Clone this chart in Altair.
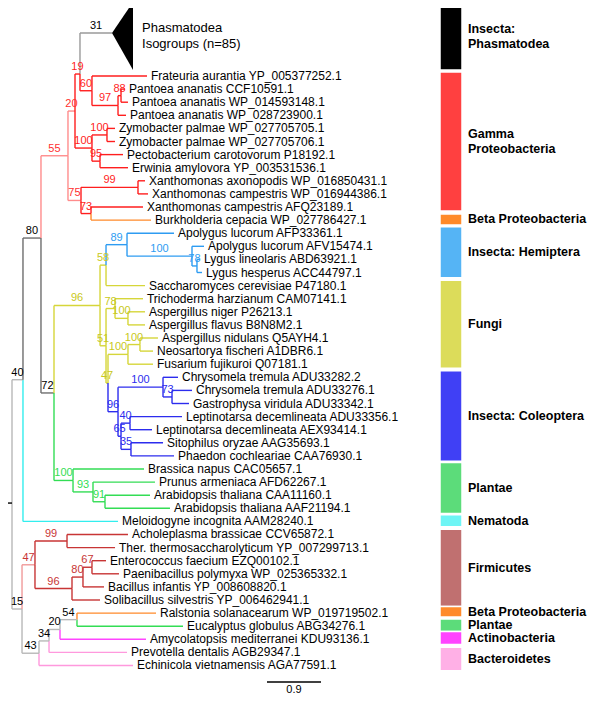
import altair as alt
import pandas as pd

# ---------------- data ----------------
leaf_names = [
    "Frateuria aurantia YP_005377252.1", "Pantoea ananatis CCF10591.1",
    "Pantoea ananatis WP_014593148.1", "Pantoea ananatis WP_028723900.1",
    "Zymobacter palmae WP_027705705.1", "Zymobacter palmae WP_027705706.1",
    "Pectobacterium carotovorum P18192.1", "Erwinia amylovora YP_003531536.1",
    "Xanthomonas axonopodis WP_016850431.1", "Xanthomonas campestris WP_016944386.1",
    "Xanthomonas campestris AFQ23189.1", "Burkholderia cepacia WP_027786427.1",
    "Apolygus lucorum AFP33361.1", "Apolygus lucorum AFV15474.1",
    "Lygus lineolaris ABD63921.1", "Lygus hesperus ACC44797.1",
    "Saccharomyces cerevisiae P47180.1", "Trichoderma harzianum CAM07141.1",
    "Aspergillus niger P26213.1", "Aspergillus flavus B8N8M2.1",
    "Aspergillus nidulans Q5AYH4.1", "Neosartorya fischeri A1DBR6.1",
    "Fusarium fujikuroi Q07181.1", "Chrysomela tremula ADU33282.2",
    "Chrysomela tremula ADU33276.1", "Gastrophysa viridula ADU33342.1",
    "Leptinotarsa decemlineata ADU33356.1", "Leptinotarsa decemlineata AEX93414.1",
    "Sitophilus oryzae AAG35693.1", "Phaedon cochleariae CAA76930.1",
    "Brassica napus CAC05657.1", "Prunus armeniaca AFD62267.1",
    "Arabidopsis thaliana CAA11160.1", "Arabidopsis thaliana AAF21194.1",
    "Meloidogyne incognita AAM28240.1", "Acholeplasma brassicae CCV65872.1",
    "Ther. thermosaccharolyticum YP_007299713.1", "Enterococcus faecium  EZQ00102.1",
    "Paenibacillus polymyxa WP_025365332.1", "Bacillus infantis  YP_008608820.1",
    "Solibacillus silvestris  YP_006462941.1", "Ralstonia solanacearum WP_019719502.1",
    "Eucalyptus globulus ABG34276.1", "Amycolatopsis mediterranei KDU93136.1",
    "Prevotella dentalis AGB29347.1", "Echinicola vietnamensis AGA77591.1",
]
leaf_parent = [
    "n60", "n88", "n88", "n97", "n100a", "n100a", "n95", "n95", "n99", "n99",
    "n73", "n73", "n89", "n100h", "n78h", "n78h", "n58", "n78y", "n100asp", "n100asp",
    "n100n", "n100n", "n100f", "n100c", "n73c", "n73c", "n40c", "n40c", "n35", "n35",
    "n100P", "n93", "n91", "n91", "n40", "n99f", "n99f", "n67", "n67", "n80f",
    "n96f", "n54", "n54", "n20b", "n34", "n43",
]
leaf_depth = [
    2.25, 1.883, 1.933, 1.90, 1.717, 1.717, 1.85, 1.933, 2.217, 2.267,
    2.183, 2.317, 2.70, 3.20, 3.133, 3.167, 2.217, 2.183, 2.217, 2.217,
    2.433, 2.35, 2.35, 2.767, 3.00, 2.95, 2.833, 2.333, 2.517, 2.70,
    2.20, 2.383, 2.30, 2.633, 1.767, 1.933, 1.717, 1.567, 1.783, 1.533,
    1.467, 2.40, 2.85, 2.233, 1.917, 2.017,
]
leaf_clade = (["gamma"] * 11 + ["beta"] + ["hemi"] * 4 + ["fungi"] * 7 + ["coleo"] * 7
              + ["plant"] * 4 + ["nema"] + ["firm"] * 6
              + ["beta", "plant", "actino", "bacter", "bacter"])

# collapsed clade
clade_name = "Phasmatodea\nIsogroups (n=85)"
clade_parent = "n19"
clade_row = -3.28
clade_depth = 1.667
clade_base_depth = 2.017
clade_base_rows = [-5.65, -0.46]
clade_support = "31"

node_ids = ["root", "n40", "n15", "n80", "n55", "n72", "n20", "n75", "n19", "n100b",
            "n60", "n97", "n88", "n100a", "n95", "n99", "n73",
            "n96", "n100P", "n58", "n51", "n89", "n100h", "n78h", "n78y", "n100asp",
            "n47", "n100f", "n100n", "n96c", "n100c", "n73c", "n65", "n40c", "n35",
            "n93", "n91", "n47f", "n43", "n99f", "n96f", "n80f", "n67", "n34", "n20b", "n54"]
node_parent = [None, "root", "root", "n40", "n80", "n80", "n55", "n55", "n20", "n20",
               "n19", "n60", "n97", "n100b", "n100b", "n75", "n75",
               "n72", "n72", "n96", "n96", "n58", "n89", "n100h", "n51", "n78y",
               "n51", "n47", "n100f", "n47", "n96c", "n100c", "n96c", "n65", "n65",
               "n100P", "n93", "n15", "n15", "n47f", "n47f", "n96f", "n80f", "n43", "n34", "n20b"]
node_depth = [0.0, 0.183, 0.167, 0.483, 0.933, 0.70, 1.05, 1.15, 1.133, 1.333,
              1.333, 1.767, 1.817, 1.583, 1.467, 2.10, 1.317,
              1.467, 1.017, 1.567, 1.567, 1.917, 3.00, 3.083, 1.717, 1.933,
              1.60, 1.933, 2.133, 1.767, 2.517, 2.667, 1.817, 1.967, 1.983,
              1.35, 1.55, 0.383, 0.45, 0.917, 1.00, 1.183, 1.333, 0.617, 0.80, 1.083]
node_support = ["", "40", "15", "80", "55", "72", "20", "75", "19", "100",
                "60", "97", "88", "100", "95", "99", "73",
                "96", "100", "58", "51", "89", "100", "78", "78", "100",
                "47", "100", "100", "96", "100", "73", "65", "40", "35",
                "93", "91", "47", "43", "99", "96", "80", "67", "34", "20", "54"]
node_clade = ["root", "root", "root", "stem", "gamma_base", "stem", "gamma_base", "gamma_base", "gamma", "gamma",
              "gamma", "gamma", "gamma", "gamma", "gamma", "gamma", "gamma",
              "fungi", "plant", "fungi", "fungi", "hemi", "hemi", "hemi", "fungi", "fungi",
              "fungi", "fungi", "fungi", "coleo", "coleo", "coleo", "coleo", "coleo", "coleo",
              "plant", "plant", "firm_base", "root", "firm", "firm", "firm", "firm", "root", "root", "root"]
# rows of internal nodes that were moved in the original figure
row_overrides = {"n19": -0.15, "n80": 12.37, "root": 32.6}
root_stem = -0.15

group_labels = ["Insecta:\nPhasmatodea", "Gamma\nProteobacteria", "Beta Proteobacteria",
                "Insecta: Hemiptera", "Fungi", "Insecta: Coleoptera", "Plantae", "Nematoda",
                "Firmicutes", "Beta Proteobacteria", "Plantae", "Actinobacteria", "Bacteroidetes"]
group_start = [-5.5, -0.3, 10.53, 11.5, 15.6, 22.5, 29.5, 33.5, 34.6, 40.5, 41.45, 42.4, 43.6]
group_end = [-0.46, 10.3, 11.37, 15.4, 22.3, 29.4, 33.4, 34.4, 40.5, 41.3, 42.4, 43.4, 45.4]
group_clade = ["phasm_bar", "gamma_bar", "beta", "hemi_bar", "fungi_bar", "coleo_bar", "plant_bar",
               "nema_bar", "firm_bar", "beta", "plant_bar", "actino", "bacter_bar"]

scale_bar_value = 0.9
scale_bar_start = 4.25
scale_bar_row = 46.26

# ---------------- styles ----------------
palette = {
    "root": "#B8B8B8", "stem": "#6E6E6E", "phasm": "#9A9A9A",
    "gamma_base": "#FF8C8C", "gamma": "#FF1E1E", "beta": "#FF8A2A",
    "hemi": "#2E9CF2", "fungi": "#D6D63A", "coleo": "#2C2CEE", "plant": "#33DD55",
    "nema": "#33EEEE", "firm_base": "#F09A9A", "firm": "#C83535",
    "actino": "#FF44FF", "bacter": "#FF99DD",
    "phasm_bar": "#000000", "gamma_bar": "#FF4040", "hemi_bar": "#55B4F5",
    "fungi_bar": "#DCDC5A", "coleo_bar": "#4040F5", "plant_bar": "#5CDC7A",
    "nema_bar": "#6EF5F5", "firm_bar": "#C07070", "bacter_bar": "#FFB0E6",
}
label_palette = dict(palette)
label_palette.update({"root": "#000000", "stem": "#000000", "gamma_base": "#FF3030",
                      "firm_base": "#C83535", "phasm": "#000000", "fungi": "#C8C820"})
ROW_PX = 13.1          # pixels per row
GROUP_LH = 15 / ROW_PX  # line height of group labels, in rows
CLADE_LH = 16 / ROW_PX

# ---------------- tree layout ----------------
depth, row, parent, clade, support = {}, {}, {}, {}, {}
children = {}
for i, n in enumerate(leaf_names):
    depth[n] = leaf_depth[i]; row[n] = float(i); parent[n] = leaf_parent[i]
    clade[n] = leaf_clade[i]; support[n] = ""
depth["PHASM"] = clade_depth; row["PHASM"] = clade_row; parent["PHASM"] = clade_parent
clade["PHASM"] = "phasm"; support["PHASM"] = clade_support
for i, n in enumerate(node_ids):
    depth[n] = node_depth[i]; parent[n] = node_parent[i]
    clade[n] = node_clade[i]; support[n] = node_support[i]
for n, p in parent.items():
    if p is not None:
        children.setdefault(p, []).append(n)


def get_row(n):
    if n in row:
        return row[n]
    if n in row_overrides:
        row[n] = row_overrides[n]
    else:
        ys = [get_row(c) for c in children[n]]
        row[n] = (min(ys) + max(ys)) / 2
    return row[n]


for n in list(parent):
    get_row(n)

seg = []
lab = []
for n, p in parent.items():
    if p is None:
        continue
    col = palette[clade[n]]
    seg.append(dict(x=depth[p], x2=depth[p], y=row[p], y2=row[n], c=col))
    seg.append(dict(x=depth[p], x2=depth[n], y=row[n], y2=row[n], c=col))
    if support[n]:
        lab.append(dict(x=(depth[p] + depth[n]) / 2, y=row[n], t=support[n],
                        c=label_palette[clade[n]]))
seg.append(dict(x=root_stem, x2=0.0, y=row["root"], y2=row["root"], c="#000000"))
seg_df = pd.DataFrame(seg)
lab_df = pd.DataFrame(lab)
leaf_df = pd.DataFrame(dict(x=leaf_depth, y=list(range(len(leaf_names))), t=leaf_names))
tri_df = pd.DataFrame(dict(x=[clade_depth, clade_base_depth], y=[clade_row, clade_base_rows[0]],
                           y2=[clade_row, clade_base_rows[1]]))

clade_lines = clade_name.split("\n")
cmid = sum(clade_base_rows) / 2
clade_df = pd.DataFrame(dict(
    x=[clade_base_depth] * len(clade_lines),
    y=[cmid + (k - (len(clade_lines) - 1) / 2) * CLADE_LH for k in range(len(clade_lines))],
    t=clade_lines))

grp_df = pd.DataFrame(dict(s=group_start, e=group_end, t=group_labels,
                           c=[palette[g] for g in group_clade]))
gl = []
for s, e, t in zip(group_start, group_end, group_labels):
    lines = t.split("\n")
    m = (s + e) / 2
    for k, line in enumerate(lines):
        gl.append(dict(y=m + (k - (len(lines) - 1) / 2) * GROUP_LH, t=line))
gl_df = pd.DataFrame(gl)

sb_df = pd.DataFrame(dict(x=[scale_bar_start], x2=[scale_bar_start + scale_bar_value],
                          y=[scale_bar_row], t=[str(scale_bar_value)],
                          xm=[scale_bar_start + scale_bar_value / 2]))

W, H = 584, 687
xs = alt.Scale(domain=[-1 / 15, 29 / 3], zero=False, nice=False)
ys = alt.Scale(domain=[-5.191, 47.252], zero=False, nice=False, reverse=True)
FONT = "Liberation Sans"

edges = alt.Chart(seg_df).mark_rule(strokeWidth=1.4).encode(
    x=alt.X("x:Q", scale=xs, axis=None), x2="x2:Q",
    y=alt.Y("y:Q", scale=ys, axis=None), y2="y2:Q",
    color=alt.Color("c:N", scale=None))

tri = alt.Chart(tri_df).mark_area(color="#000000").encode(
    x=alt.X("x:Q", scale=xs, axis=None),
    y=alt.Y("y:Q", scale=ys, axis=None), y2="y2:Q")

clade_txt = alt.Chart(clade_df).mark_text(align="left", baseline="middle", dx=9, font=FONT,
                                          fontSize=13, color="#000000").encode(
    x=alt.X("x:Q", scale=xs, axis=None), y=alt.Y("y:Q", scale=ys, axis=None), text="t:N")

leaf_txt = alt.Chart(leaf_df).mark_text(align="left", baseline="middle", dx=4, font=FONT,
                                        fontSize=12, color="#000000").encode(
    x=alt.X("x:Q", scale=xs, axis=None), y=alt.Y("y:Q", scale=ys, axis=None), text="t:N")

sup_txt = alt.Chart(lab_df).mark_text(align="center", baseline="middle", dy=-7, font=FONT,
                                      fontSize=11).encode(
    x=alt.X("x:Q", scale=xs, axis=None), y=alt.Y("y:Q", scale=ys, axis=None), text="t:N",
    color=alt.Color("c:N", scale=None))

bars = alt.Chart(grp_df).mark_rect(stroke="#FFFFFF", strokeWidth=1.5).encode(
    x=alt.value(432), x2=alt.value(454),
    y=alt.Y("s:Q", scale=ys, axis=None), y2="e:Q",
    color=alt.Color("c:N", scale=None))

grp_txt = alt.Chart(gl_df).mark_text(align="left", baseline="middle", font=FONT, fontSize=12.5,
                                     fontWeight="bold", color="#000000").encode(
    x=alt.value(460), y=alt.Y("y:Q", scale=ys, axis=None), text="t:N")

sb_line = alt.Chart(sb_df).mark_rule(strokeWidth=1.4, color="#000000").encode(
    x=alt.X("x:Q", scale=xs, axis=None), x2="x2:Q", y=alt.Y("y:Q", scale=ys, axis=None))
sb_txt = alt.Chart(sb_df).mark_text(baseline="middle", dy=8, font=FONT, fontSize=11,
                                    color="#000000").encode(
    x=alt.X("xm:Q", scale=xs, axis=None), y=alt.Y("y:Q", scale=ys, axis=None), text="t:N")

chart = alt.layer(edges, tri, clade_txt, leaf_txt, sup_txt, bars, grp_txt, sb_line, sb_txt).properties(
    width=W, height=H, padding=0, autosize=alt.AutoSizeParams(type="none")
).configure_view(stroke=None)

chart.save("out.html", embed_options={"renderer": "svg", "actions": False})
